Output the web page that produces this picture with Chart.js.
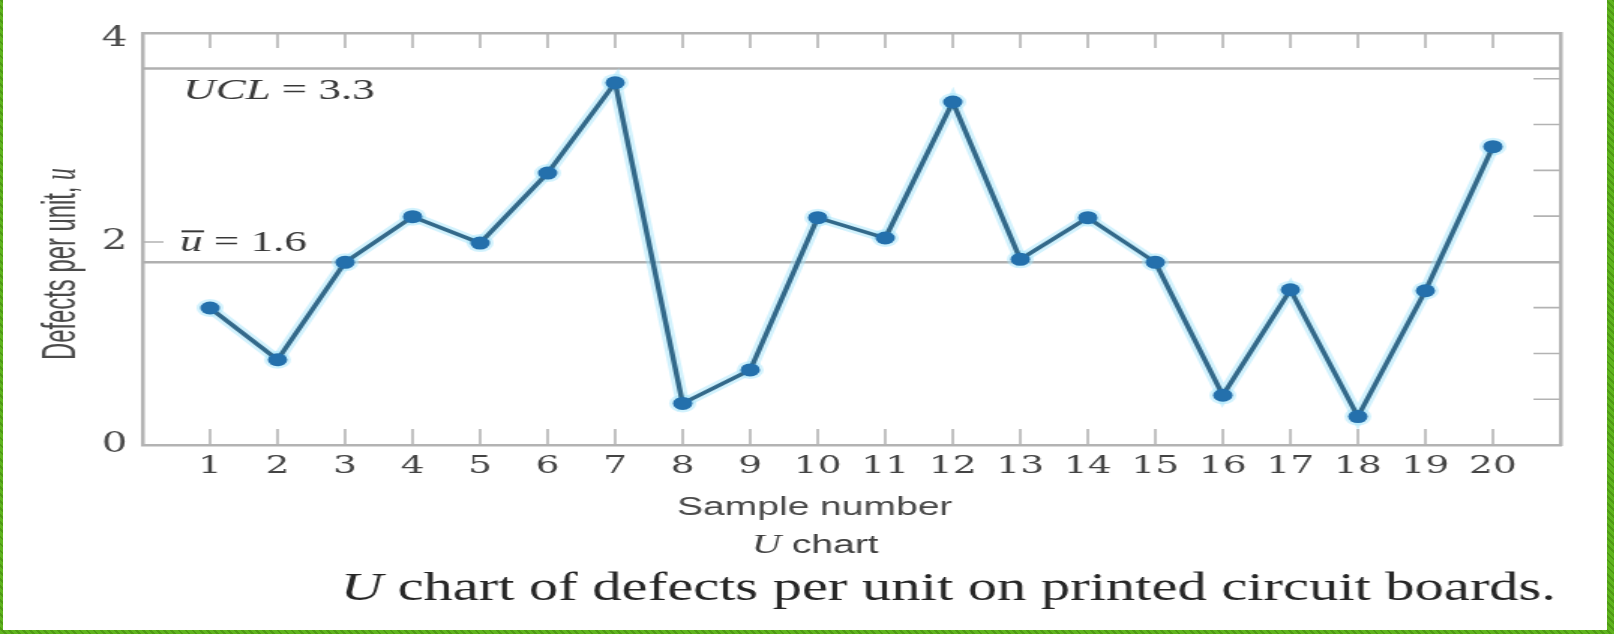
<!DOCTYPE html>
<html>
<head>
<meta charset="utf-8">
<script src="https://cdn.jsdelivr.net/npm/chart.js@4.4.1/dist/chart.umd.min.js"></script>
<style>
  html, body { margin: 0; padding: 0; }
  body {
    width: 1614px; height: 634px; overflow: hidden; position: relative;
    background: repeating-linear-gradient(45deg, #5fb41e 0px, #5fb41e 3px, #4f9a14 3px, #4f9a14 5px);
  }
  #chart { position: absolute; left: 3px; top: 0; background: #fff; }
</style>
</head>
<body>
<!-- drawn at 2/3 width, then stretched out like the scanned figure -->
<canvas id="chart" width="1069" height="630" style="width:1604px;height:630px"></canvas>
<script>
const samples = [1, 2, 3, 4, 5, 6, 7, 8, 9, 10, 11, 12, 13, 14, 15, 16, 17, 18, 19, 20];
const defectsPerUnit = [1.35, 0.84, 1.80, 2.25, 1.99, 2.68, 3.57, 0.41, 0.74, 2.24,
                        2.04, 3.38, 1.83, 2.24, 1.80, 0.49, 1.53, 0.28, 1.52, 2.94];
const uclLine = 3.71;
const centerLine = 1.80;
const yTicks = [0, 2, 4];
const leftMarks = [2];
const rightMarks = [1, 2, 3, 4, 5, 6, 7, 8];

const uclText = ['UCL', ' = 3.3'];
const centerText = ['u', ' = 1.6'];
const yTitle = ['Defects per unit, ', 'u'];
const xTitle = 'Sample number';
const chartName = ['U', ' chart'];
const caption = ['U', ' chart of defects per unit on printed circuit boards.'];

const serif = '"Liberation Serif", "Times New Roman", serif';
const sans = '"Liberation Sans", Arial, sans-serif';

const points = samples.map((s, i) => ({ x: s, y: defectsPerUnit[i] }));
const flat = v => [{ x: 0, y: v }, { x: 21, y: v }];

function drawRuns(ctx, x, y, runs) {
    runs.forEach(r => {
        ctx.font = r[1];
        ctx.fillText(r[0], x, y);
        x += ctx.measureText(r[0]).width;
    });
    return x;
}
function runsWidth(ctx, runs) {
    let w = 0;
    runs.forEach(r => { ctx.font = r[1]; w += ctx.measureText(r[0]).width; });
    return w;
}

// tick marks pointing into the plot
const innerTicks = {
    id: 'innerTicks',
    beforeDatasetsDraw(chart) {
        const ctx = chart.ctx;
        const a = chart.chartArea;
        const s = chart.scales;
        ctx.save();
        ctx.strokeStyle = '#b3b3b3';
        ctx.lineWidth = 1.6;
        ctx.beginPath();
        samples.forEach(v => {
            const px = s.x.getPixelForValue(v);
            ctx.moveTo(px, a.bottom); ctx.lineTo(px, a.bottom - 16);
            ctx.moveTo(px, a.top); ctx.lineTo(px, a.top + 15);
        });
        leftMarks.forEach(v => {
            const py = s.y.getPixelForValue(v);
            ctx.moveTo(a.left, py); ctx.lineTo(a.left + 14, py);
        });
        rightMarks.forEach(v => {
            const py = s.y2.getPixelForValue(v);
            ctx.moveTo(a.right, py); ctx.lineTo(a.right - 18, py);
        });
        ctx.stroke();
        ctx.restore();
    }
};

const figureText = {
    id: 'figureText',
    afterDraw(chart) {
        const ctx = chart.ctx;
        const y = chart.scales.y;
        ctx.save();
        ctx.textBaseline = 'alphabetic';
        ctx.textAlign = 'left';

        ctx.fillStyle = '#383838';
        drawRuns(ctx, 120, y.getPixelForValue(uclLine) + 30,
            [[uclText[0], 'italic 30px ' + serif], [uclText[1], '30px ' + serif]]);

        const cy = y.getPixelForValue(centerLine) - 11;
        ctx.font = 'italic 30px ' + serif;
        const uw = ctx.measureText(centerText[0]).width;
        drawRuns(ctx, 118, cy,
            [[centerText[0], 'italic 30px ' + serif], [centerText[1], '30px ' + serif]]);
        ctx.strokeStyle = '#383838';
        ctx.lineWidth = 2;
        ctx.beginPath();
        ctx.moveTo(119, cy - 20); ctx.lineTo(119 + uw, cy - 20);
        ctx.stroke();

        // y title, condensed
        ctx.fillStyle = '#4a4a4a';
        const yRuns = [[yTitle[0], '32px ' + sans], [yTitle[1], 'italic 32px ' + serif]];
        const yw = runsWidth(ctx, yRuns);
        ctx.save();
        ctx.translate(48, 264);
        ctx.rotate(-Math.PI / 2);
        ctx.scale(192 / yw, 1);
        drawRuns(ctx, -yw / 2, 0, yRuns);
        ctx.restore();

        ctx.fillStyle = '#4a4a4a';
        ctx.font = '26px ' + sans;
        ctx.textAlign = 'center';
        ctx.fillText(xTitle, 541, 515);
        ctx.textAlign = 'left';

        ctx.fillStyle = '#404040';
        drawRuns(ctx, 499, 553,
            [[chartName[0], 'italic 27px ' + serif], [chartName[1], '26px ' + sans]]);

        ctx.fillStyle = '#262626';
        drawRuns(ctx, 225, 600,
            [[caption[0], 'italic 39px ' + serif], [caption[1], '39px ' + serif]]);
        ctx.restore();
    }
};

const frame = { color: '#b3b3b3', width: 2.5 };

new Chart('chart', {
    type: 'line',
    data: {
        datasets: [
            {
                data: points,
                borderColor: '#33698a',
                borderWidth: 3.5,
                pointRadius: 6.5,
                pointBackgroundColor: '#2470ac',
                pointBorderWidth: 0,
                order: 1
            },
            {
                // pale glow round the line
                data: points,
                borderColor: 'rgba(165, 230, 252, 0.5)',
                borderWidth: 9,
                pointRadius: 9,
                pointBackgroundColor: 'rgba(165, 230, 252, 0.5)',
                pointBorderWidth: 0,
                order: 2
            },
            {
                data: flat(uclLine),
                borderColor: '#b0b0b0',
                borderWidth: 2.5,
                pointRadius: 0,
                order: 3
            },
            {
                data: flat(centerLine),
                borderColor: '#b0b0b0',
                borderWidth: 2.5,
                pointRadius: 0,
                order: 3
            }
        ]
    },
    options: {
        responsive: false,
        animation: false,
        layout: { padding: 0 },
        plugins: {
            legend: { display: false },
            tooltip: { enabled: false }
        },
        scales: {
            x: {
                type: 'linear',
                position: 'bottom',
                min: 0,
                max: 21,
                afterBuildTicks: s => { s.ticks = samples.map(v => ({ value: v })); },
                afterFit: s => { s.height = 185; },
                ticks: {
                    autoSkip: false,
                    maxRotation: 0,
                    padding: 6,
                    color: '#444',
                    font: { family: '"DejaVu Serif", serif', size: 25 }
                },
                grid: { drawOnChartArea: false, drawTicks: false },
                border: frame
            },
            x2: {
                type: 'linear',
                position: 'top',
                min: 0,
                max: 21,
                afterFit: s => { s.height = 33; },
                ticks: { display: false },
                grid: { display: false },
                border: frame
            },
            y: {
                type: 'linear',
                position: 'left',
                min: 0,
                max: 4.06,
                afterBuildTicks: s => { s.ticks = yTicks.map(v => ({ value: v })); },
                afterFit: s => { s.width = 93; },
                ticks: {
                    padding: 10,
                    color: '#4a4a4a',
                    font: { family: '"DejaVu Serif", serif', size: 27 }
                },
                grid: { drawOnChartArea: false, drawTicks: false },
                border: frame
            },
            y2: {
                type: 'linear',
                position: 'right',
                min: 0,
                max: 9,
                afterFit: s => { s.width = 31; },
                ticks: { display: false },
                grid: { display: false },
                border: frame
            }
        }
    },
    plugins: [innerTicks, figureText]
});
</script>
</body>
</html>
